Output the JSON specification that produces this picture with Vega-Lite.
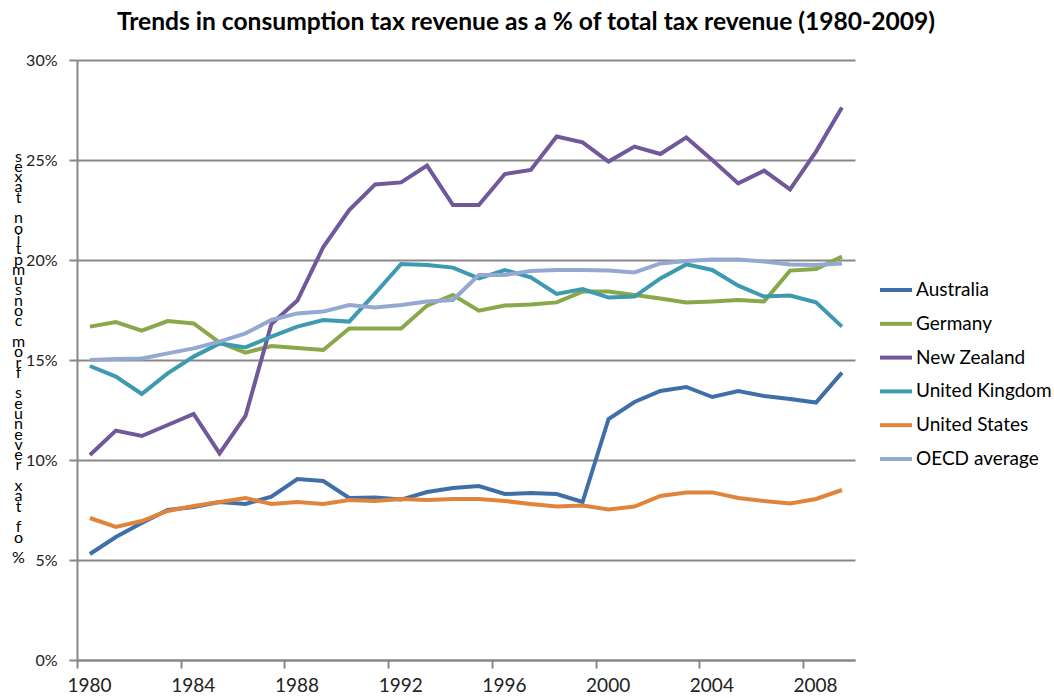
{
  "$schema": "https://vega.github.io/schema/vega-lite/v6.json",
  "width": 778,
  "height": 600,
  "autosize": {"type": "none"},
  "padding": {"left": 77, "top": 60, "right": 199, "bottom": 38},
  "background": "white",
  "title": {
    "text": "Trends in consumption tax revenue as a % of total tax revenue (1980-2009)",
    "font": "Lato", "fontSize": 24.6, "fontWeight": "bold", "color": "black",
    "anchor": "middle", "dx": 60, "offset": 16
  },
  "config": {
    "view": {"stroke": null},
    "axis": {
      "domainColor": "#888888", "domainWidth": 2,
      "tickColor": "#888888", "tickWidth": 2, "tickSize": 8,
      "gridColor": "#888888", "gridWidth": 2,
      "labelFont": "Lato", "labelFontSize": 16, "labelColor": "#222222"
    }
  },
  "data": {
    "values": [
      {"year": "1980-07-01", "Australia": 5.3, "Germany": 16.67, "New Zealand": 10.25, "United Kingdom": 14.7, "United States": 7.1, "OECD average": 15.0},
      {"year": "1981-07-01", "Australia": 6.15, "Germany": 16.9, "New Zealand": 11.47, "United Kingdom": 14.17, "United States": 6.65, "OECD average": 15.05},
      {"year": "1982-07-01", "Australia": 6.85, "Germany": 16.47, "New Zealand": 11.2, "United Kingdom": 13.3, "United States": 6.95, "OECD average": 15.08},
      {"year": "1983-07-01", "Australia": 7.5, "Germany": 16.95, "New Zealand": 11.75, "United Kingdom": 14.33, "United States": 7.45, "OECD average": 15.33},
      {"year": "1984-07-01", "Australia": 7.65, "Germany": 16.83, "New Zealand": 12.3, "United Kingdom": 15.17, "United States": 7.7, "OECD average": 15.58},
      {"year": "1985-07-01", "Australia": 7.9, "Germany": 15.87, "New Zealand": 10.33, "United Kingdom": 15.83, "United States": 7.9, "OECD average": 15.92},
      {"year": "1986-07-01", "Australia": 7.8, "Germany": 15.37, "New Zealand": 12.2, "United Kingdom": 15.63, "United States": 8.1, "OECD average": 16.33},
      {"year": "1987-07-01", "Australia": 8.17, "Germany": 15.7, "New Zealand": 16.8, "United Kingdom": 16.17, "United States": 7.8, "OECD average": 17.0},
      {"year": "1988-07-01", "Australia": 9.05, "Germany": 15.6, "New Zealand": 17.97, "United Kingdom": 16.67, "United States": 7.9, "OECD average": 17.33},
      {"year": "1989-07-01", "Australia": 8.95, "Germany": 15.5, "New Zealand": 20.65, "United Kingdom": 17.0, "United States": 7.8, "OECD average": 17.42},
      {"year": "1990-07-01", "Australia": 8.1, "Germany": 16.58, "New Zealand": 22.5, "United Kingdom": 16.92, "United States": 8.0, "OECD average": 17.75},
      {"year": "1991-07-01", "Australia": 8.12, "Germany": 16.58, "New Zealand": 23.78, "United Kingdom": 18.33, "United States": 7.95, "OECD average": 17.62},
      {"year": "1992-07-01", "Australia": 8.02, "Germany": 16.58, "New Zealand": 23.88, "United Kingdom": 19.8, "United States": 8.05, "OECD average": 17.75},
      {"year": "1993-07-01", "Australia": 8.4, "Germany": 17.72, "New Zealand": 24.72, "United Kingdom": 19.75, "United States": 8.0, "OECD average": 17.92},
      {"year": "1994-07-01", "Australia": 8.6, "Germany": 18.25, "New Zealand": 22.75, "United Kingdom": 19.62, "United States": 8.05, "OECD average": 18.0},
      {"year": "1995-07-01", "Australia": 8.7, "Germany": 17.47, "New Zealand": 22.75, "United Kingdom": 19.08, "United States": 8.05, "OECD average": 19.25},
      {"year": "1996-07-01", "Australia": 8.3, "Germany": 17.72, "New Zealand": 24.3, "United Kingdom": 19.5, "United States": 7.95, "OECD average": 19.25},
      {"year": "1997-07-01", "Australia": 8.35, "Germany": 17.78, "New Zealand": 24.5, "United Kingdom": 19.13, "United States": 7.8, "OECD average": 19.45},
      {"year": "1998-07-01", "Australia": 8.3, "Germany": 17.88, "New Zealand": 26.17, "United Kingdom": 18.3, "United States": 7.67, "OECD average": 19.5},
      {"year": "1999-07-01", "Australia": 7.9, "Germany": 18.42, "New Zealand": 25.88, "United Kingdom": 18.55, "United States": 7.73, "OECD average": 19.5},
      {"year": "2000-07-01", "Australia": 12.05, "Germany": 18.42, "New Zealand": 24.92, "United Kingdom": 18.12, "United States": 7.53, "OECD average": 19.47},
      {"year": "2001-07-01", "Australia": 12.9, "Germany": 18.25, "New Zealand": 25.67, "United Kingdom": 18.17, "United States": 7.67, "OECD average": 19.38},
      {"year": "2002-07-01", "Australia": 13.45, "Germany": 18.08, "New Zealand": 25.3, "United Kingdom": 19.08, "United States": 8.2, "OECD average": 19.83},
      {"year": "2003-07-01", "Australia": 13.65, "Germany": 17.88, "New Zealand": 26.13, "United Kingdom": 19.78, "United States": 8.38, "OECD average": 19.95},
      {"year": "2004-07-01", "Australia": 13.15, "Germany": 17.93, "New Zealand": 25.0, "United Kingdom": 19.5, "United States": 8.38, "OECD average": 20.03},
      {"year": "2005-07-01", "Australia": 13.45, "Germany": 18.0, "New Zealand": 23.83, "United Kingdom": 18.72, "United States": 8.1, "OECD average": 20.03},
      {"year": "2006-07-01", "Australia": 13.2, "Germany": 17.93, "New Zealand": 24.47, "United Kingdom": 18.17, "United States": 7.95, "OECD average": 19.92},
      {"year": "2007-07-01", "Australia": 13.05, "Germany": 19.47, "New Zealand": 23.53, "United Kingdom": 18.22, "United States": 7.83, "OECD average": 19.78},
      {"year": "2008-07-01", "Australia": 12.87, "Germany": 19.55, "New Zealand": 25.42, "United Kingdom": 17.88, "United States": 8.05, "OECD average": 19.75},
      {"year": "2009-07-01", "Australia": 14.37, "Germany": 20.17, "New Zealand": 27.63, "United Kingdom": 16.67, "United States": 8.5, "OECD average": 19.83}
    ]
  },
  "transform": [
    {"fold": ["Australia", "Germany", "New Zealand", "United Kingdom", "United States", "OECD average"], "as": ["country", "value"]}
  ],
  "mark": {"type": "line", "strokeWidth": 4},
  "encoding": {
    "x": {
      "field": "year", "type": "temporal",
      "scale": {"type": "utc", "domain": [{"year": 1980, "utc": true}, {"year": 2010, "utc": true}], "nice": false},
      "axis": {
        "title": null, "grid": false,
        "values": [{"year": 1980, "utc": true}, {"year": 1984, "utc": true}, {"year": 1988, "utc": true}, {"year": 1992, "utc": true}, {"year": 1996, "utc": true}, {"year": 2000, "utc": true}, {"year": 2004, "utc": true}, {"year": 2008, "utc": true}],
        "labelExpr": "utcFormat(datum.value, '%Y')",
        "labelFontSize": 19,
        "labelFlush": false,
        "labelOffset": 12,
        "labelPadding": 8
      }
    },
    "y": {
      "field": "value", "type": "quantitative",
      "scale": {"domain": [0, 30], "nice": false},
      "axis": {
        "values": [0, 5, 10, 15, 20, 25, 30],
        "labelExpr": "datum.value + '%'",
        "labelPadding": 12,
        "title": ["s", "e", "x", "a", "t", "\u200b", "n", "o", "i", "t", "p", "m", "u", "s", "n", "o", "c", "\u200b", "m", "o", "r", "f", "\u200b", "s", "e", "u", "n", "e", "v", "e", "r", "\u200b", "x", "a", "t", "\u200b", "f", "o", "\u200b", "%"],
        "titleAngle": 0, "titleX": -59, "titleY": 88,
        "titleAlign": "center", "titleBaseline": "top",
        "titleFont": "Lato", "titleFontSize": 16, "titleFontWeight": "normal",
        "titleLineHeight": 10.3, "titleColor": "black"
      }
    },
    "color": {
      "field": "country", "type": "nominal",
      "scale": {
        "domain": ["Australia", "Germany", "New Zealand", "United Kingdom", "United States", "OECD average"],
        "range": ["#3F6FA8", "#88A849", "#70589A", "#3D9AB0", "#E0843C", "#94A9D1"]
      },
      "legend": {
        "orient": "none", "legendX": 801, "legendY": 212, "title": null,
        "symbolType": "stroke", "symbolSize": 1024, "symbolStrokeWidth": 4,
        "labelFont": "Lato", "labelFontSize": 19, "labelColor": "black",
        "labelOffset": 2, "rowPadding": 5.8
      }
    }
  }
}
